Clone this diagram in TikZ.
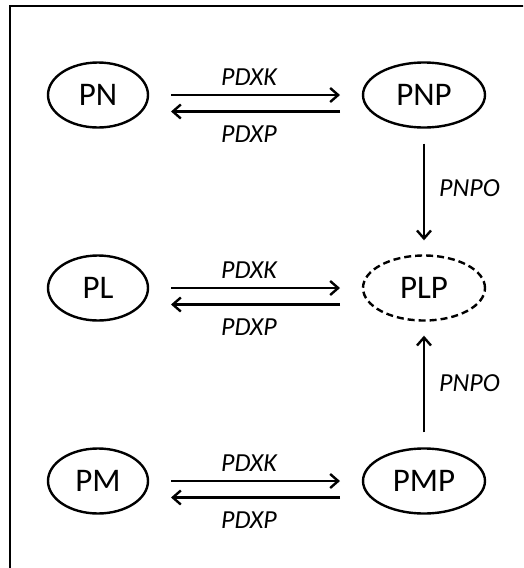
\documentclass[tikz,border=0pt]{standalone}
\usepackage{fontspec}
\setmainfont{Carlito}
\usetikzlibrary{shapes.geometric,arrows.meta}
\begin{document}
\begin{tikzpicture}[x=1pt,y=-1pt,
  state/.style={ellipse,draw,line width=2.4pt,inner sep=0pt,minimum height=65pt,font=\fontsize{33}{36}\selectfont},
  small/.style={state,minimum width=100pt},
  big/.style={state,minimum width=122pt},
  conn/.style={line width=2.4pt,-{Straight Barb[length=8pt,width=14pt,line width=2.4pt]}},
  lab/.style={font=\fontsize{26}{28}\selectfont\itshape,inner sep=0pt,anchor=base}
]
\useasboundingbox (0,0) rectangle (523,568);
\begin{scope}
\clip (0,0) rectangle (523,568);
\draw[line width=2.6pt] (10,6) rectangle (560,600);
\end{scope}
% nodes
\node[small] (PN) at (98,95) {PN};
\node[big] (PNP) at (424,95) {PNP};
\node[small] (PL) at (98,288) {PL};
\node[big,dashed,dash pattern=on 7pt off 4pt] (PLP) at (424,288) {PLP};
\node[small] (PM) at (98,481) {PM};
\node[big] (PMP) at (424,481) {PMP};
% horizontal coordinates
\foreach \r/\y in {1/95,2/288,3/481}{
  \coordinate (a\r) at (171,\y);
  \coordinate (b\r) at (340,\y);
  \coordinate (c\r) at (340,\y+16.5);
  \coordinate (d\r) at (171,\y+16.5);
}
\draw[conn] (a1) -- (b1);
\draw[conn] (c1) -- (d1);
\draw[conn] (a2) -- (b2);
\draw[conn] (c2) -- (d2);
\draw[conn] (a3) -- (b3);
\draw[conn] (c3) -- (d3);
\node[lab] (k1) at (249,85) {PDXK};
\node[lab] (p1) at (249,142) {PDXP};
\node[lab] (k2) at (249,278) {PDXK};
\node[lab] (p2) at (249,335) {PDXP};
\node[lab] (k3) at (249,471) {PDXK};
\node[lab] (p3) at (249,528) {PDXP};
% vertical
\draw[conn] ([yshift=-15pt]PNP.south) -- ([yshift=14pt]PLP.north);
\draw[conn] ([yshift=15pt]PMP.north) -- ([yshift=-14pt]PLP.south);
\node[lab,anchor=base west] (o1) at (439,196) {PNPO};
\node[lab,anchor=base west] (o2) at (439,391) {PNPO};
\end{tikzpicture}
\end{document}
